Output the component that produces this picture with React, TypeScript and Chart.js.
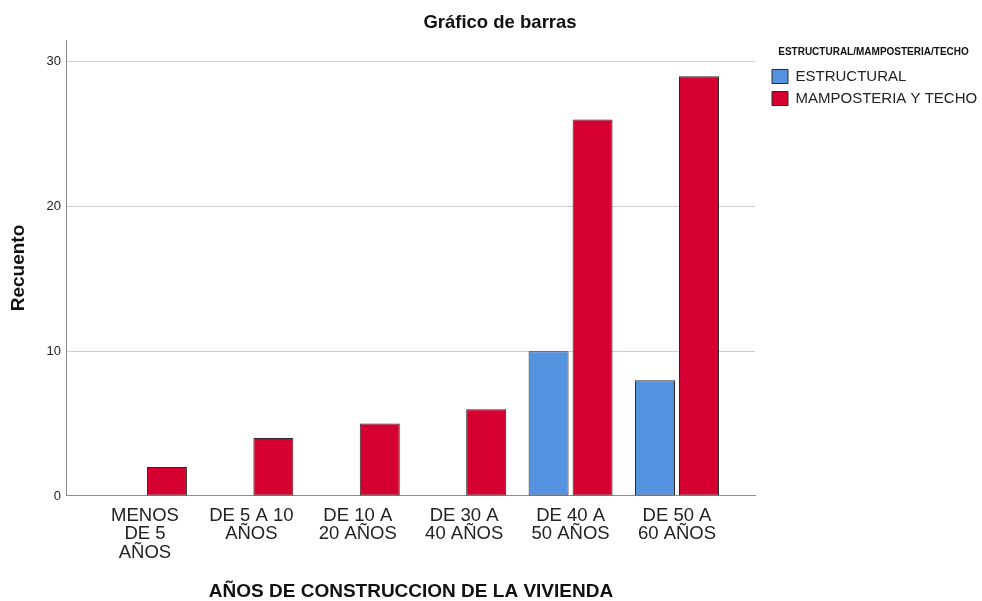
import { useEffect, useRef } from "react";
import { Chart, registerables } from "chart.js";

Chart.register(...registerables);

const categories: string[][] = [
  ["MENOS", "DE 5", "AÑOS"],
  ["DE 5 A 10", "AÑOS"],
  ["DE 10 A", "20 AÑOS"],
  ["DE 30 A", "40 AÑOS"],
  ["DE 40 A", "50 AÑOS"],
  ["DE 50 A", "60 AÑOS"],
];
const seriesNames = ["ESTRUCTURAL", "MAMPOSTERIA Y TECHO"];
const estructural = [0, 0, 0, 0, 10, 8];
const mamposteria = [2, 4, 5, 6, 26, 29];
const yTicks = [0, 10, 20, 30];

const FONT = "'Liberation Sans', Arial, sans-serif";

export default function App() {
  const ref = useRef<HTMLCanvasElement>(null);

  useEffect(() => {
    if (!ref.current) return;
    const toPoints = (vals: number[]) => vals.map((v, i) => ({ x: i, y: v }));
    const chart = new Chart(ref.current, {
      type: "bar",
      data: {
        datasets: [
          {
            label: seriesNames[0],
            data: toPoints(estructural),
            backgroundColor: "#5592E0",
            borderColor: "#2a2a2a",
            borderWidth: 1,
            borderSkipped: false,
            categoryPercentage: 0.827,
            barPercentage: 0.909,
          },
          {
            label: seriesNames[1],
            data: toPoints(mamposteria),
            backgroundColor: "#D5002F",
            borderColor: "#2a2a2a",
            borderWidth: 1,
            borderSkipped: false,
            categoryPercentage: 0.827,
            barPercentage: 0.909,
          },
        ] as any,
      },
      options: {
        responsive: false,
        animation: false,
        layout: { padding: { left: 18, right: 0, top: 0, bottom: 0 } },
        scales: {
          x: {
            type: "linear",
            min: -0.733,
            max: 5.733,
            offset: false,
            afterBuildTicks: (s: any) => {
              s.ticks = categories.map((_, i) => ({ value: i }));
            },
            grid: { display: false, drawTicks: false, offset: false },
            border: { display: true, color: "#8c8c8c", width: 1 },
            ticks: {
              autoSkip: false,
              maxRotation: 0,
              minRotation: 0,
              padding: 10,
              color: "#222",
              font: { family: FONT, size: 18.5, lineHeight: 1.02 },
              callback: (v: any) => categories[v] ?? "",
            },
            title: {
              display: true,
              text: "AÑOS DE CONSTRUCCION DE LA VIVIENDA",
              color: "#111",
              font: { family: FONT, size: 19, weight: "bold", lineHeight: 1 },
              padding: { top: 9.4, bottom: 0 },
            },
          },
          y: {
            min: 0,
            max: 31.5,
            afterBuildTicks: (s: any) => {
              s.ticks = yTicks.map((v) => ({ value: v }));
            },
            grid: { color: "#cdcdcd", drawTicks: false },
            border: { display: true, color: "#8c8c8c", width: 1 },
            ticks: {
              padding: 6,
              color: "#222",
              font: { family: FONT, size: 13 },
            },
            title: {
              display: true,
              text: "Recuento",
              color: "#111",
              font: { family: FONT, size: 19, weight: "bold", lineHeight: 1 },
              padding: { top: -8.5, bottom: 12 },
            },
          },
          yR: {
            type: "linear",
            display: false,
            position: "right",
            afterFit: (s: any) => {
              s.width = 10;
            },
          },
        } as any,
        plugins: {
          title: {
            display: true,
            text: "Gráfico de barras",
            color: "#111",
            font: { family: FONT, size: 18.5, weight: "bold", lineHeight: 1 },
            padding: { top: 14, bottom: 7.5 },
          },
          legend: {
            position: "right",
            align: "start",
            fullSize: false,
            maxWidth: 217,
            title: {
              display: true,
              text: "ESTRUCTURAL/MAMPOSTERIA/TECHO",
              position: "center",
              color: "#111",
              font: { family: FONT, size: 10, weight: "bold" },
              padding: { top: 7, bottom: 3 },
            },
            labels: {
              boxWidth: 16,
              boxHeight: 14,
              padding: 7,
              color: "#222",
              font: { family: FONT, size: 15 },
            },
          },
          tooltip: { enabled: false },
        } as any,
      },
    });
    return () => chart.destroy();
  }, []);

  return (
    <div style={{ position: "fixed", left: 0, top: 0, width: 982, height: 601, background: "#fff" }}>
      <canvas ref={ref} width={982} height={601} style={{ display: "block" }} />
    </div>
  );
}
